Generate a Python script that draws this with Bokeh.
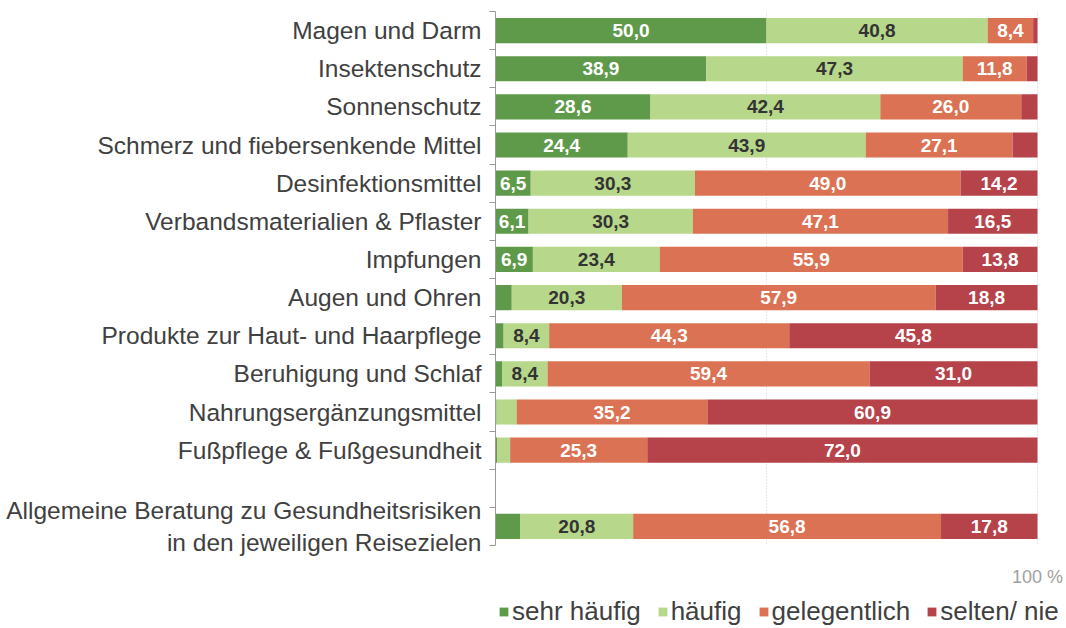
from bokeh.plotting import figure
from bokeh.layouts import column
from bokeh.models import (ColumnDataSource, Range1d, FixedTicker, Legend, LegendItem)
from bokeh.core.properties import value
from bokeh.embed import file_html
from bokeh.resources import INLINE

categories = [
    "Magen und Darm",
    "Insektenschutz",
    "Sonnenschutz",
    "Schmerz und fiebersenkende Mittel",
    "Desinfektionsmittel",
    "Verbandsmaterialien & Pflaster",
    "Impfungen",
    "Augen und Ohren",
    "Produkte zur Haut- und Haarpflege",
    "Beruhigung und Schlaf",
    "Nahrungsergänzungsmittel",
    "Fußpflege & Fußgesundheit",
    "Allgemeine Beratung zu Gesundheitsrisiken\nin den jeweiligen Reisezielen",
]
# row slot of each category (slot 12 is left empty)
slots = [0, 1, 2, 3, 4, 5, 6, 7, 8, 9, 10, 11, 13]

sehr_haeufig = [50.0, 38.9, 28.6, 24.4, 6.5, 6.1, 6.9, 3.0, 1.5, 1.2, 0.2, 0.3, 4.6]
haeufig = [40.8, 47.3, 42.4, 43.9, 30.3, 30.3, 23.4, 20.3, 8.4, 8.4, 3.7, 2.4, 20.8]
gelegentlich = [8.4, 11.8, 26.0, 27.1, 49.0, 47.1, 55.9, 57.9, 44.3, 59.4, 35.2, 25.3, 56.8]
selten_nie = [0.8, 2.0, 3.0, 4.6, 14.2, 16.5, 13.8, 18.8, 45.8, 31.0, 60.9, 72.0, 17.8]

series_keys = ["sehr", "haeufig", "gelegentlich", "selten"]
series_names = ["sehr häufig", "häufig", "gelegentlich", "selten/ nie"]
colors = ["#5f9a4b", "#b7d78b", "#db7253", "#b6424a"]
text_colors = ["white", "#333333", "white", "white"]

data = dict(y=slots, sehr=sehr_haeufig, haeufig=haeufig,
            gelegentlich=gelegentlich, selten=selten_nie)
source = ColumnDataSource(data)

# frame spans 0..100 % over 542 px, extended to the right edge of the page
FRAME_W = 571
p = figure(frame_width=FRAME_W, frame_height=534, output_backend="svg", toolbar_location=None,
           x_range=Range1d(0, 100 * FRAME_W / 542), y_range=Range1d(13.5, -0.5),
           min_border_left=495, min_border_right=0, min_border_top=11,
           min_border_bottom=50)
p.outline_line_color = None
p.background_fill_color = "white"

renderers = p.hbar_stack(series_keys, y="y", height=0.66, color=colors,
                         line_color=None, source=source)

# value labels
lx, ly, lt, lc = [], [], [], []
all_series = [sehr_haeufig, haeufig, gelegentlich, selten_nie]
for i, yv in enumerate(slots):
    left = 0.0
    for s, vals in enumerate(all_series):
        v = vals[i]
        if v >= 5:
            lx.append(left + v / 2)
            ly.append(yv)
            lt.append(f"{v:.1f}".replace(".", ","))
            lc.append(text_colors[s])
        left += v
lsrc = ColumnDataSource(dict(x=lx, y=ly, t=lt, c=lc))
p.text(x="x", y="y", text="t", text_color="c", source=lsrc,
       text_align="center", text_baseline="middle",
       text_font=value("Liberation Sans"), text_font_size="19px",
       text_font_style="bold")

# grid
p.xgrid.ticker = FixedTicker(ticks=[50, 100])
p.xgrid.grid_line_color = "#cfcfcf"
p.xgrid.grid_line_dash = "1 2"
p.ygrid.grid_line_color = None

# y axis
yax = p.yaxis[0]
yax.ticker = FixedTicker(ticks=slots, minor_ticks=[k + 0.5 for k in range(-1, 14)])
yax.major_label_overrides = {s: c for s, c in zip(slots, categories)}
yax.major_tick_line_color = None
yax.major_tick_out = 0
yax.minor_tick_out = 6
yax.minor_tick_in = 0
yax.minor_tick_line_color = "#9a9a9a"
yax.axis_line_color = "#9a9a9a"
yax.major_label_text_font = "Liberation Sans"
yax.major_label_text_font_size = "24.5px"
yax.major_label_text_color = "#404040"
yax.major_label_standoff = 8

# x axis: only "100 %"
xax = p.xaxis[0]
xax.ticker = FixedTicker(ticks=[100])
xax.major_label_overrides = {100: "100 %"}
xax.axis_line_color = None
xax.major_tick_line_color = None
xax.minor_tick_line_color = None
xax.major_label_text_font = "Liberation Sans"
xax.major_label_text_font_size = "18px"
xax.major_label_text_color = "#a0a0a0"
xax.major_label_standoff = 15

# legend strip below the chart
lg = figure(width=1066, height=33, output_backend="svg", toolbar_location=None,
            x_range=Range1d(0, 1), y_range=Range1d(0, 1),
            x_axis_type=None, y_axis_type=None,
            min_border_left=495, min_border_right=0, min_border_top=0, min_border_bottom=0)
lg.outline_line_color = None
lg.xgrid.visible = False
lg.ygrid.visible = False
nan = float("nan")
dummies = [lg.hbar(y=[nan], right=[nan], height=0.5, color=c, line_color=None) for c in colors]
legend = Legend(items=[LegendItem(label=n, renderers=[r]) for n, r in zip(series_names, dummies)],
                orientation="horizontal", location=(3, 1),
                label_text_font="Liberation Sans", label_text_font_size="26px",
                label_text_color="#404040", glyph_width=11, glyph_height=11,
                label_standoff=3, spacing=16, border_line_color=None,
                background_fill_alpha=0, padding=0, margin=0)
lg.add_layout(legend, "center")

layout = column(p, lg, spacing=0)
open("out.html", "w").write(file_html(layout, INLINE))
